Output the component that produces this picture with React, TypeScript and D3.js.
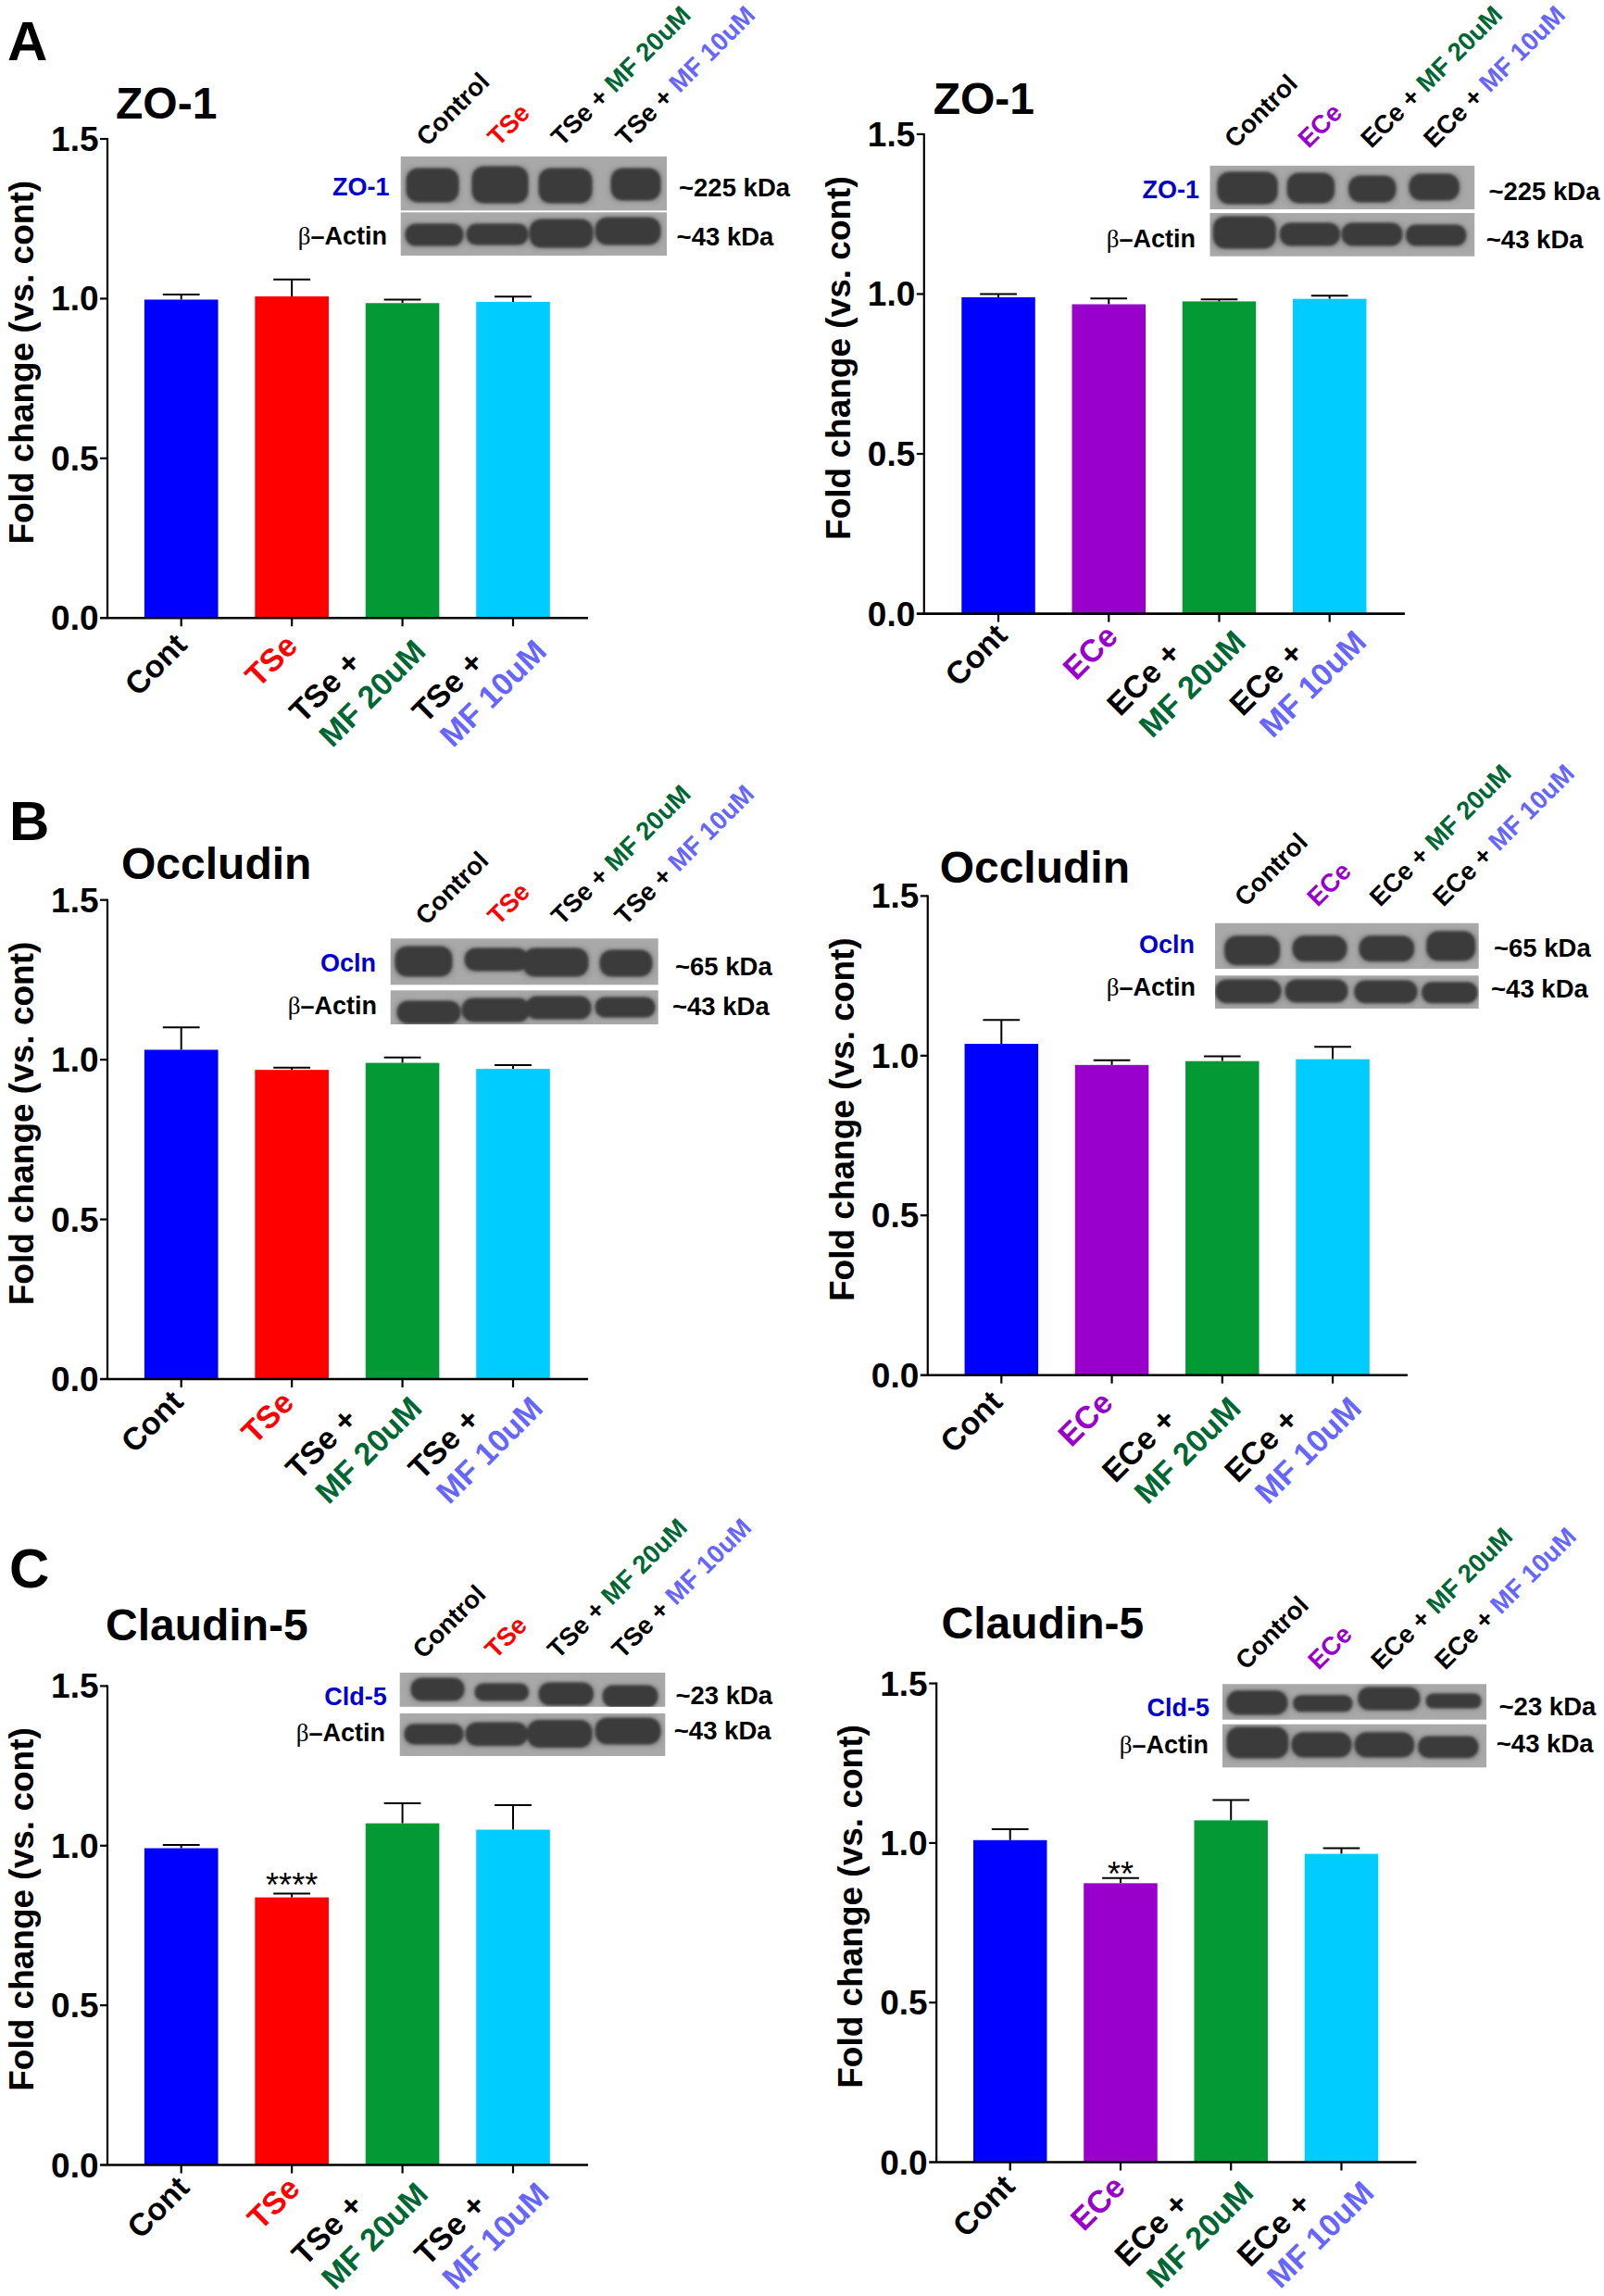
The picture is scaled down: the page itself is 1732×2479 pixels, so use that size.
import React from "react";
import * as d3 from "d3";

// ---- data ----
const tseGroups = ["Cont", "TSe", "TSe + MF 20uM", "TSe + MF 10uM"];
const eceGroups = ["Cont", "ECe", "ECe + MF 20uM", "ECe + MF 10uM"];
const yTicks = [0, 0.5, 1.0, 1.5];

const zo1TseMean = [0.997, 1.007, 0.986, 0.99];
const zo1TseTop = [1.013, 1.06, 0.997, 1.006];
const zo1EceMean = [0.99, 0.968, 0.977, 0.985];
const zo1EceTop = [1.0, 0.986, 0.983, 0.995];
const oclnTseMean = [1.031, 0.968, 0.99, 0.971];
const oclnTseTop = [1.101, 0.975, 1.007, 0.983];
const oclnEceMean = [1.037, 0.971, 0.983, 0.989];
const oclnEceTop = [1.112, 0.986, 0.998, 1.028];
const cldTseMean = [0.992, 0.838, 1.07, 1.05];
const cldTseTop = [1.002, 0.85, 1.133, 1.127];
const cldEceMean = [1.009, 0.874, 1.071, 0.966];
const cldEceTop = [1.043, 0.89, 1.135, 0.984];

const tseColors = ["#0000ff", "#ff0000", "#039935", "#00ccff"];
const eceColors = ["#0000ff", "#9900cc", "#039935", "#00ccff"];
const TREAT = { TSe: "#ff0000", ECe: "#9900cc" };
const MF20 = "#006633";
const MF10 = "#6666ff";

const FONT = "'Liberation Sans', Arial, sans-serif";
const W = 1732;
const H = 2479;

type Band = [number, number, number, number];
type Strip = { y0: number; y1: number; bands: Band[] };

// the right column's layout numbers are measured on a slightly tighter grid
const rx = (v: number) => 870 + (v - 870) * 0.9907;
const rxBands = (bs: Band[]) => bs.map((b) => [rx(b[0]), rx(b[1]), b[2], b[3]] as Band);

const panels = [
  {
    title: "ZO-1", tx: 125, ty: 128, agent: "TSe", means: zo1TseMean, tops: zo1TseTop, colors: tseColors, groups: tseGroups,
    axisX: 116, y15: 150, y0: 667.3, centers: [195.7, 554], end: 635, shift: [0, 0],
    blot: { x0: 432.7, x1: 720, strips: [
      { y0: 169, y1: 227.3, bands: [[439, 495, 183, 217], [510, 570, 181, 218], [582, 639, 183, 218], [660, 713, 183, 215]] },
      { y0: 229.3, y1: 276, bands: [[438, 500, 243, 264], [504, 570, 243, 263], [572, 640, 238, 266], [643, 713, 236, 263]] },
    ] as Strip[] },
    prot: "ZO-1", kda: "~225 kDa",
    pl: [420.5, 210.8], al: [418, 264], kl: [733, 212], ak: [730.6, 265],
    laneY: 159, lanes: [461, 538, 606.5, 676],
  },
  {
    title: "ZO-1", tx: rx(1009), ty: 123, agent: "ECe", means: zo1EceMean, tops: zo1EceTop, colors: eceColors, groups: eceGroups,
    axisX: rx(999), y15: 144.9, y0: 662.6, centers: [rx(1080), rx(1441)], end: rx(1523), shift: [3.5, -5.5],
    blot: { x0: rx(1310.6), x1: rx(1599), strips: [
      { y0: 178.9, y1: 226, bands: rxBands([[1319, 1384, 187, 219], [1395, 1446, 188, 218], [1462, 1513, 191, 217], [1528, 1582, 189, 215]]) },
      { y0: 230, y1: 276.7, bands: rxBands([[1314.5, 1382, 235, 267], [1387, 1452, 242, 264], [1454.5, 1520, 242, 264], [1524.5, 1589.5, 244, 264]]) },
    ] as Strip[] },
    prot: "ZO-1", kda: "~225 kDa",
    pl: [rx(1299), 214.4], al: [rx(1295), 266.7], kl: [rx(1614.4), 215.5], ak: [rx(1611.7), 267.8],
    laneY: 161, lanes: [rx(1342) - 4, rx(1420) - 2, rx(1487.5) - 1, rx(1557) - 2],
  },
  {
    title: "Occludin", tx: 131, ty: 949, agent: "TSe", means: oclnTseMean, tops: oclnTseTop, colors: tseColors, groups: tseGroups,
    axisX: 116, y15: 971.7, y0: 1489, centers: [195.7, 554], end: 635, shift: [-4, -4.5],
    blot: { x0: 421.7, x1: 710.7, strips: [
      { y0: 1013.3, y1: 1063.3, bands: [[427, 488, 1023, 1053], [502, 570, 1025, 1047], [565, 635, 1025, 1053], [648, 704, 1027, 1053]] },
      { y0: 1069.3, y1: 1106, bands: [[429, 497, 1082, 1104], [499, 572, 1079, 1102], [568, 638, 1077, 1099], [643, 707, 1078, 1097]] },
    ] as Strip[] },
    prot: "Ocln", kda: "~65 kDa",
    pl: [406, 1048.6], al: [407, 1095], kl: [729, 1053.3], ak: [726, 1095.7],
    laneY: 1000, lanes: [460, 538, 606.5, 675],
  },
  {
    title: "Occludin", tx: rx(1016), ty: 953, agent: "ECe", means: oclnEceMean, tops: oclnEceTop, colors: eceColors, groups: eceGroups,
    axisX: rx(1003), y15: 967.4, y0: 1484.7, centers: [rx(1083.3), rx(1444.4)], end: rx(1526), shift: [-5, 0],
    blot: { x0: 1312, x1: 1596.7, strips: [
      { y0: 996.7, y1: 1046, bands: [[1322.7, 1381.7, 1011.7, 1040.7], [1396, 1454, 1011.7, 1036.7], [1468, 1526.7, 1011.7, 1036.7], [1540.7, 1592.7, 1006.7, 1036]] },
      { y0: 1053.3, y1: 1089, bands: [[1312.7, 1383, 1059, 1081.7], [1388, 1455, 1059, 1081], [1462.7, 1530, 1060, 1081.7], [1535.7, 1595, 1061.7, 1081.7]] },
    ] as Strip[] },
    prot: "Ocln", kda: "~65 kDa",
    pl: [rx(1294), 1028.6], al: [rx(1295), 1075], kl: [rx(1620), 1033], ak: [rx(1617), 1076.7],
    laneY: 980, lanes: [rx(1351) - 2, rx(1430) - 2, rx(1498) - 2, rx(1567) - 2],
  },
  {
    title: "Claudin-5", tx: 114, ty: 1771, agent: "TSe", means: cldTseMean, tops: cldTseTop, colors: tseColors, groups: tseGroups,
    axisX: 116, y15: 1820.4, y0: 2337.5, centers: [195.7, 554], end: 635, shift: [2.5, -4.5],
    blot: { x0: 431.7, x1: 718.3, strips: [
      { y0: 1806, y1: 1842.8, bands: [[444, 501, 1813, 1835], [513, 570.5, 1819, 1835], [582, 640.5, 1818, 1840], [651, 710, 1821, 1842]] },
      { y0: 1850, y1: 1896, bands: [[437, 500, 1862.7, 1882], [503, 569.5, 1861, 1883.6], [569.5, 639, 1858.5, 1885.6], [643, 713, 1856, 1882]] },
    ] as Strip[] },
    prot: "Cld-5", kda: "~23 kDa",
    pl: [417.8, 1841], al: [416, 1880.4], kl: [729.4, 1840], ak: [727.8, 1878],
    laneY: 1792, lanes: [457, 535, 602.6, 672],
    star: { index: 1, text: "****", dy: 4 },
  },
  {
    title: "Claudin-5", tx: rx(1018), ty: 1769, agent: "ECe", means: cldEceMean, tops: cldEceTop, colors: eceColors, groups: eceGroups,
    axisX: rx(1012.5), y15: 1817.6, y0: 2334.5, centers: [rx(1092.8), rx(1453.9)], end: rx(1535.6), shift: [-1, -3],
    blot: { x0: 1320, x1: 1605, strips: [
      { y0: 1818.3, y1: 1856.7, bands: [[1325, 1390, 1826.7, 1850], [1396.7, 1460, 1831.7, 1846.7], [1466.7, 1533, 1823, 1845], [1540, 1599, 1830, 1843]] },
      { y0: 1861.7, y1: 1908.3, bands: [[1325, 1390.7, 1866, 1897], [1395, 1459, 1871.7, 1896], [1463, 1526.7, 1871.7, 1896], [1531.7, 1596, 1876, 1896.7]] },
    ] as Strip[] },
    prot: "Cld-5", kda: "~23 kDa",
    pl: [rx(1310), 1853], al: [rx(1309), 1892.5], kl: [rx(1625.6), 1852], ak: [rx(1622.8), 1891.5],
    laneY: 1804, lanes: [rx(1353) - 3, rx(1431) - 2, rx(1499.7) - 2, rx(1569) - 2],
    star: { index: 1, text: "**", dy: 8 },
  },
];

const letters = [
  { t: "A", x: 8, y: 65 },
  { t: "B", x: 10, y: 907 },
  { t: "C", x: 10, y: 1714 },
];

// offsets of the x category label line ends from each tick, one row per category
const xLabelOffsets: [number, number, number, number][] = [
  [8, 31, 0, 0],
  [8, 32, 0, 0],
  [-43, 50, 27, 38],
  [-30, 50, 38, 38],
];

function Blot({ blot, id }: { blot: any; id: string }) {
  return (
    <g>
      {blot.strips.map((s: Strip, i: number) => (
        <g key={i}>
          <rect x={blot.x0} y={s.y0} width={blot.x1 - blot.x0} height={s.y1 - s.y0} fill="#a9a9a9" />
          <clipPath id={`${id}-${i}`}>
            <rect x={blot.x0} y={s.y0} width={blot.x1 - blot.x0} height={s.y1 - s.y0} />
          </clipPath>
          <g clipPath={`url(#${id}-${i})`}>
            <g filter="url(#halo)">
              {s.bands.map((b, j) => (
                <rect key={j} x={b[0] - 2} y={b[2] - 2} width={b[1] - b[0] + 4} height={b[3] - b[2] + 5} rx={9} fill="#8f8f8f" />
              ))}
            </g>
            <g filter="url(#soft)">
              {s.bands.map((b, j) => (
                <rect
                  key={j}
                  x={b[0] - 0.5}
                  y={b[2] - 1.5}
                  width={b[1] - b[0] + 1}
                  height={b[3] - b[2] + 3}
                  rx={Math.min(13, (b[3] - b[2] + 3) * 0.48)}
                  fill="#3a3a3a"
                />
              ))}
            </g>
          </g>
        </g>
      ))}
    </g>
  );
}

function XLabel({ name, x, y, fill }: any) {
  return (
    <text transform={`translate(${x},${y}) rotate(-45)`} textAnchor="end" fontSize={34} fontWeight="bold" fill={fill}>
      {name}
    </text>
  );
}

function LaneLabel({ x, y, parts }: any) {
  return (
    <text transform={`translate(${x},${y}) rotate(-45)`} fontSize={27.5} fontWeight="bold">
      {parts.map((p: [string, string], i: number) => (
        <tspan key={i} fill={p[1]}>{p[0]}</tspan>
      ))}
    </text>
  );
}

function Panel({ p, idx }: { p: any; idx: number }) {
  const step = (p.centers[1] - p.centers[0]) / 3;
  const x = d3
    .scaleBand<string>()
    .domain(p.groups)
    .range([p.centers[0] - step / 2, p.centers[1] + step / 2])
    .paddingInner(1 / 3)
    .paddingOuter(1 / 6);
  const y = d3.scaleLinear().domain([0, 1.5]).range([p.y0, p.y15]);
  const fmt = d3.format(".1f");
  const bw = x.bandwidth();
  const cx = (g: string) => (x(g) as number) + bw / 2;
  const agentColor = (TREAT as any)[p.agent];
  return (
    <g fontFamily={FONT}>
      <text x={p.tx} y={p.ty} fontSize={48} fontWeight="bold" fill="#000">{p.title}</text>

      {p.groups.map((g: string, i: number) => (
        <g key={g}>
          <line x1={cx(g)} x2={cx(g)} y1={y(p.means[i])} y2={y(p.tops[i])} stroke="#000" strokeWidth={2} />
          <line x1={cx(g) - bw / 4} x2={cx(g) + bw / 4} y1={y(p.tops[i])} y2={y(p.tops[i])} stroke="#000" strokeWidth={2} />
          <rect x={x(g)} y={y(p.means[i])} width={bw} height={p.y0 - y(p.means[i])} fill={p.colors[i]} />
          <line x1={cx(g)} x2={cx(g)} y1={p.y0} y2={p.y0 + 9} stroke="#000" strokeWidth={2.2} />
        </g>
      ))}

      {p.star && (
        <text
          x={cx(p.groups[p.star.index])}
          y={y(p.tops[p.star.index]) + p.star.dy}
          textAnchor="middle"
          fontSize={36}
          fill="#000"
        >
          {p.star.text}
        </text>
      )}

      <line x1={p.axisX} x2={p.axisX} y1={p.y15 - 1} y2={p.y0} stroke="#000" strokeWidth={2.2} />
      <line x1={p.axisX - 8} x2={p.end} y1={p.y0} y2={p.y0} stroke="#000" strokeWidth={2.6} />
      {yTicks.map((t) => (
        <g key={t}>
          {t > 0 && <line x1={p.axisX - 8} x2={p.axisX} y1={y(t)} y2={y(t)} stroke="#000" strokeWidth={2.2} />}
          <text x={p.axisX - 9.5} y={y(t) + 13} textAnchor="end" fontSize={37} fontWeight="bold" fill="#000">
            {fmt(t)}
          </text>
        </g>
      ))}
      <text
        transform={`translate(${p.axisX - 80},${p.y0 - 276}) rotate(-90)`}
        textAnchor="middle"
        fontSize={37}
        fontWeight="bold"
        fill="#000"
      >
        Fold change (vs. cont)
      </text>

      {p.groups.map((g: string, i: number) => {
        const o = xLabelOffsets[i];
        const ax = cx(g) + p.shift[0];
        const ay = p.y0 + p.shift[1];
        if (i === 0) return <XLabel key={g} name={g} x={ax + o[0]} y={ay + o[1]} fill="#000" />;
        if (i === 1) return <XLabel key={g} name={g} x={ax + o[0]} y={ay + o[1]} fill={agentColor} />;
        const [line1, line2] = [g.slice(0, g.indexOf("+") + 1), g.slice(g.indexOf("+") + 2)];
        return (
          <g key={g}>
            <XLabel name={line1} x={ax + o[0]} y={ay + o[1]} fill="#000" />
            <XLabel name={line2} x={ax + o[2]} y={ay + o[3]} fill={i === 2 ? MF20 : MF10} />
          </g>
        );
      })}

      <Blot blot={p.blot} id={`clip${idx}`} />

      <text x={p.pl[0]} y={p.pl[1]} textAnchor="end" fontSize={27} fontWeight="bold" fill="#0000cc">{p.prot}</text>
      <text x={p.al[0]} y={p.al[1]} textAnchor="end" fontSize={27} fontWeight="bold" fill="#000">
        <tspan fontFamily="'Liberation Serif', serif" fontWeight="normal">β</tspan>–Actin
      </text>
      <text x={p.kl[0]} y={p.kl[1]} fontSize={27.5} fontWeight="bold" fill="#000">{p.kda}</text>
      <text x={p.ak[0]} y={p.ak[1]} fontSize={27.5} fontWeight="bold" fill="#000">~43 kDa</text>

      <LaneLabel x={p.lanes[0]} y={p.laneY} parts={[["Control", "#000"]]} />
      <LaneLabel x={p.lanes[1]} y={p.laneY} parts={[[p.agent, agentColor]]} />
      <LaneLabel x={p.lanes[2]} y={p.laneY} parts={[[`${p.agent} + `, "#000"], ["MF 20uM", MF20]]} />
      <LaneLabel x={p.lanes[3]} y={p.laneY} parts={[[`${p.agent} + `, "#000"], ["MF 10uM", MF10]]} />
    </g>
  );
}

export default function App() {
  return (
    <svg
      width={W}
      height={H}
      viewBox={`0 0 ${W} ${H}`}
      style={{ position: "absolute", left: 0, top: 0, display: "block", background: "#fff" }}
    >
      <defs>
        <filter id="soft" x="-10%" y="-30%" width="120%" height="160%">
          <feGaussianBlur stdDeviation="1.5" />
        </filter>
        <filter id="halo" x="-10%" y="-40%" width="120%" height="180%">
          <feGaussianBlur stdDeviation="3" />
        </filter>
      </defs>
      <rect width={W} height={H} fill="#fff" />
      {letters.map((l) => (
        <text key={l.t} x={l.x} y={l.y} fontFamily={FONT} fontSize={60} fontWeight="bold" fill="#000">{l.t}</text>
      ))}
      {panels.map((p, i) => (
        <Panel key={i} p={p} idx={i} />
      ))}
    </svg>
  );
}
